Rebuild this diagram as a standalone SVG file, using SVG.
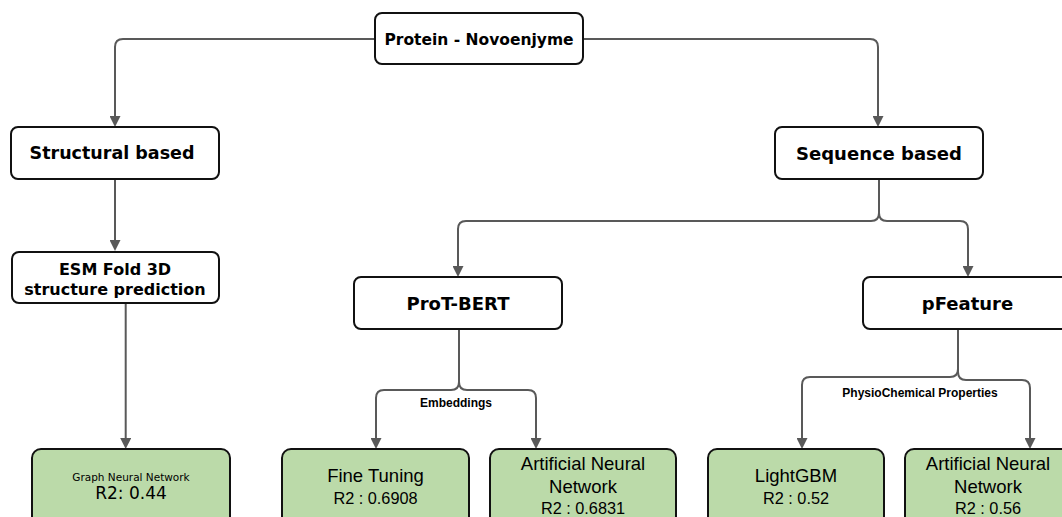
<svg xmlns="http://www.w3.org/2000/svg" width="1062" height="517" viewBox="0 0 1062 517">
  <style>
    .box { fill: #ffffff; stroke: #111111; stroke-width: 2; }
    .res { fill: #bbdaa9; stroke: #111111; stroke-width: 2; }
    .hd { font-family: "DejaVu Sans", Verdana, sans-serif; font-weight: bold; fill: #000; text-anchor: middle; }
    .ar { font-family: "Liberation Sans", Arial, sans-serif; fill: #000; text-anchor: middle; }
    .vd { font-family: "DejaVu Sans", Verdana, sans-serif; fill: #000; text-anchor: middle; }
    .lbl { font-family: "Liberation Sans", Arial, sans-serif; font-weight: bold; font-size: 12px; fill: #000; text-anchor: middle; }
    .con { fill: none; stroke: #595959; stroke-width: 2; marker-end: url(#arr); }
  </style>
  <defs>
    <marker id="arr" markerUnits="userSpaceOnUse" markerWidth="11" markerHeight="11" refX="6" refY="5.5" orient="auto">
      <path d="M0,0 L11,5.5 L0,11 z" fill="#595959"/>
    </marker>
  </defs>
  <rect width="1062" height="517" fill="#ffffff"/>

  <g id="connectors">
    <path class="con" d="M375,39 H123 Q115,39 115,47 V122"/>
    <path class="con" d="M583,39 H870 Q878,39 878,47 V122"/>
    <path class="con" d="M115,179 V246"/>
    <path class="con" d="M125.7,303 V444"/>
    <path class="con" d="M879,179 V213 Q879,221 871,221 H466 Q458,221 458,229 V272"/>
    <path class="con" d="M879,179 V213 Q879,221 887,221 H960 Q968,221 968,229 V272"/>
    <path class="con" d="M459,329 V382 Q459,390 451,390 H384 Q376,390 376,398 V444"/>
    <path class="con" d="M459,329 V382 Q459,390 467,390 H528 Q536,390 536,398 V444"/>
    <path class="con" d="M958,329 V369 Q958,377 950,377 H810 Q802,377 802,385 V444"/>
    <path class="con" d="M958,329 V372 Q958,380 966,380 H1022 Q1030,380 1030,388 V444"/>
    <text class="lbl" x="456" y="407">Embeddings</text>
    <text class="lbl" x="920" y="397">PhysioChemical Properties</text>
  </g>

  <g id="protein">
    <rect class="box" x="375" y="13" width="208" height="51" rx="7"/>
    <text class="hd" x="479" y="45" font-size="15.5">Protein - Novoenjyme</text>
  </g>
  <g id="structural">
    <rect class="box" x="11" y="127" width="208" height="52" rx="7"/>
    <text class="hd" x="112" y="159" font-size="17.5">Structural based</text>
  </g>
  <g id="sequence">
    <rect class="box" x="775" y="127" width="208" height="52" rx="7"/>
    <text class="hd" x="879" y="160" font-size="18">Sequence based</text>
  </g>
  <g id="esmfold">
    <rect class="box" x="12" y="252" width="207" height="51" rx="7"/>
    <text class="hd" x="115" y="275" font-size="16">ESM Fold 3D</text>
    <text class="hd" x="115" y="295" font-size="16">structure prediction</text>
  </g>
  <g id="protbert">
    <rect class="box" x="354" y="277" width="208" height="52" rx="7"/>
    <text class="hd" x="458" y="310" font-size="18">ProT-BERT</text>
  </g>
  <g id="pfeature">
    <rect class="box" x="863" y="277" width="208" height="52" rx="7"/>
    <text class="hd" x="967.5" y="310" font-size="18">pFeature</text>
  </g>
  <g id="gnn">
    <rect class="res" x="32" y="449" width="198" height="90" rx="9"/>
    <text class="vd" x="131" y="481" font-size="10.5">Graph Neural Network</text>
    <text class="vd" x="131" y="499" font-size="17">R2: 0.44</text>
  </g>
  <g id="finetuning">
    <rect class="res" x="282" y="449" width="187" height="90" rx="9"/>
    <text class="ar" x="375.5" y="481.5" font-size="18.5">Fine Tuning</text>
    <text class="ar" x="375.5" y="503.5" font-size="16.3">R2 : 0.6908</text>
  </g>
  <g id="ann1">
    <rect class="res" x="490" y="449" width="186" height="90" rx="9"/>
    <text class="ar" x="583" y="470" font-size="18.5">Artificial Neural</text>
    <text class="ar" x="583" y="492.5" font-size="18.5">Network</text>
    <text class="ar" x="583" y="514" font-size="16.3">R2 : 0.6831</text>
  </g>
  <g id="lightgbm">
    <rect class="res" x="708" y="449" width="176" height="90" rx="9"/>
    <text class="ar" x="796" y="481.5" font-size="18.5">LightGBM</text>
    <text class="ar" x="796" y="503.5" font-size="16.3">R2 : 0.52</text>
  </g>
  <g id="ann2">
    <rect class="res" x="905" y="449" width="166" height="90" rx="9"/>
    <text class="ar" x="988" y="470" font-size="18.5">Artificial Neural</text>
    <text class="ar" x="988" y="492.5" font-size="18.5">Network</text>
    <text class="ar" x="988" y="514" font-size="16.3">R2 : 0.56</text>
  </g>
</svg>
